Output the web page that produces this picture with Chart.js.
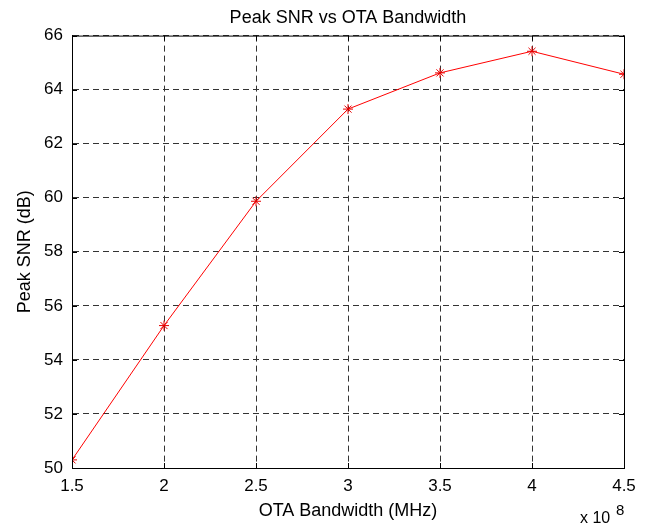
<!DOCTYPE html>
<html lang="en">
<head>
    <meta charset="UTF-8">
    <title>Peak SNR vs OTA Bandwidth</title>
    <script src="https://cdn.jsdelivr.net/npm/chart.js"></script>
    <style>
        html, body { margin: 0; padding: 0; background: #fff; }
        #wrap { width: 651px; height: 526px; }
    </style>
</head>
<body>
    <div id="wrap"><canvas id="myChart" width="651" height="526"></canvas></div>
    <script>
        // bandwidth in Hz, peak SNR in dB
        const bandwidth = [1.5e8, 2.0e8, 2.5e8, 3.0e8, 3.5e8, 4.0e8, 4.5e8];
        const peakSnr = [50.3, 55.27, 59.87, 63.28, 64.62, 65.42, 64.57];
        const xTicks = [1.5, 2, 2.5, 3, 3.5, 4, 4.5];
        const yTicks = [50, 52, 54, 56, 58, 60, 62, 64, 66];

        const font = "'Liberation Sans', Arial, Helvetica, sans-serif";

        // box, inward ticks and the x 10^8 exponent label
        const matlabFrame = {
            id: 'matlabFrame',
            afterDraw(chart) {
                const c = chart.ctx;
                const a = chart.chartArea;
                const xs = chart.scales.x, ys = chart.scales.y;
                c.save();
                c.strokeStyle = '#000';
                c.lineWidth = 1;
                c.setLineDash([]);
                c.beginPath();
                c.rect(a.left + 0.5, a.top + 0.5, a.right - a.left, a.bottom - a.top);
                xTicks.forEach(t => {
                    const px = Math.round(xs.getPixelForValue(t * 1e8)) + 0.5;
                    c.moveTo(px, a.bottom); c.lineTo(px, a.bottom - 5);
                    c.moveTo(px, a.top); c.lineTo(px, a.top + 5);
                });
                yTicks.forEach(t => {
                    const py = Math.round(ys.getPixelForValue(t)) + 0.5;
                    c.moveTo(a.left, py); c.lineTo(a.left + 5, py);
                    c.moveTo(a.right, py); c.lineTo(a.right - 5, py);
                });
                c.stroke();
                c.fillStyle = '#000';
                c.textBaseline = 'alphabetic';
                c.textAlign = 'left';
                c.font = '16px ' + font;
                c.fillText('x 10', 580, 523);
                c.font = '15px ' + font;
                c.fillText('8', 616, 515);
                c.restore();
            }
        };

        const ctx = document.getElementById('myChart').getContext('2d');
        const myChart = new Chart(ctx, {
            type: 'line',
            data: {
                datasets: [{
                    label: 'Peak SNR',
                    data: bandwidth.map((b, i) => ({ x: b, y: peakSnr[i] })),
                    borderColor: 'rgb(255, 0, 0)',
                    backgroundColor: 'rgb(255, 0, 0)',
                    borderWidth: 1,
                    pointStyle: 'star',
                    pointRadius: 5,
                    pointBorderWidth: 1,
                    pointBorderColor: 'rgb(230, 0, 0)',
                    tension: 0,
                    fill: false
                }]
            },
            plugins: [matlabFrame],
            options: {
                responsive: false,
                animation: false,
                layout: { padding: { left: 0, right: 27, top: 0, bottom: 0 } },
                plugins: {
                    legend: { display: false },
                    tooltip: { enabled: false },
                    title: {
                        display: true,
                        text: 'Peak SNR vs OTA Bandwidth',
                        fullSize: false,
                        color: '#000',
                        font: { family: font, size: 18, weight: 'normal', lineHeight: 1.2 },
                        padding: { top: 7, bottom: 7 }
                    }
                },
                scales: {
                    x: {
                        type: 'linear',
                        min: 1.5e8,
                        max: 4.5e8,
                        afterBuildTicks(s) { s.ticks = xTicks.map(v => ({ value: v * 1e8 })); },
                        afterFit(s) { s.height = 58; },
                        ticks: {
                            color: '#000',
                            padding: 8,
                            maxRotation: 0,
                            font: { family: font, size: 17 },
                            callback: v => String(Math.round(v / 1e7) / 10)
                        },
                        grid: { color: '#333', lineWidth: 1, drawTicks: false, tickLength: 0 },
                        border: { display: true, color: '#000', dash: [6, 4] },
                        title: {
                            display: true,
                            text: 'OTA Bandwidth (MHz)',
                            color: '#000',
                            font: { family: font, size: 18 },
                            padding: { top: 4, bottom: 4 }
                        }
                    },
                    y: {
                        min: 50,
                        max: 66,
                        afterBuildTicks(s) { s.ticks = yTicks.map(v => ({ value: v })); },
                        afterFit(s) { s.width = 72; },
                        ticks: {
                            color: '#000',
                            padding: 9,
                            font: { family: font, size: 17 }
                        },
                        grid: { color: '#333', lineWidth: 1, drawTicks: false, tickLength: 0 },
                        border: { display: true, color: '#000', dash: [6, 4] },
                        title: {
                            display: true,
                            text: 'Peak SNR (dB)',
                            color: '#000',
                            font: { family: font, size: 18 },
                            padding: { top: 14, bottom: 0 }
                        }
                    }
                }
            }
        });
    </script>
</body>
</html>
